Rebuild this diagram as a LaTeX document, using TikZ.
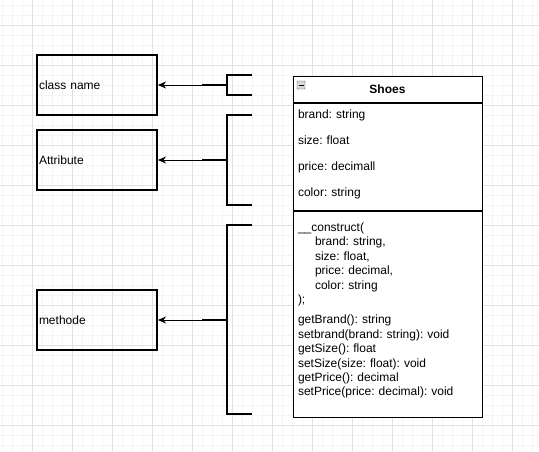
\documentclass[tikz,border=0pt]{standalone}
\usepackage{fontspec}
\setmainfont{Liberation Sans}
\usetikzlibrary{arrows.meta}
\definecolor{gridminor}{HTML}{F4F4F4}
\definecolor{gridmajor}{HTML}{E1E1E1}
\frenchspacing
\begin{document}
\begin{tikzpicture}[x=1pt,y=-1pt,
    every node/.style={font=\fontsize{12}{14.4}\selectfont},
    label box/.style={draw,line width=2pt,minimum width=120pt,minimum height=60pt,
      text width=116pt,inner xsep=2pt,align=left},
    bracket/.style={line width=2pt},
    pointer/.style={line width=1pt,-{Stealth[length=8pt,width=7pt,inset=2.5pt]}},
    compartment/.style={draw,fill=white,line width=1pt,minimum width=189pt,anchor=north},
    members/.style={text width=179pt,inner sep=0pt,align=left}]
  \useasboundingbox (0,0) rectangle (539,451);
  \fill[white] (0,0) rectangle (539,451);
  \foreach \gx in {2,12,...,532} \draw[gridminor] (\gx,0) -- (\gx,451);
  \foreach \gy in {5,15,...,445} \draw[gridminor] (0,\gy) -- (539,\gy);
  \foreach \gx in {32,72,...,512} \draw[gridmajor] (\gx,0) -- (\gx,451);
  \foreach \gy in {25,65,...,425} \draw[gridmajor] (0,\gy) -- (539,\gy);
  \node[label box] (classname) at (97,85) {class name};
  \node[label box] (attribute) at (97,160) {Attribute};
  \node[label box] (methode) at (97,320) {methode};
  \node[draw,fill=white,line width=1pt,minimum width=189pt,minimum height=26pt,
    font=\fontsize{12}{14.4}\selectfont\bfseries] (shoes) at (387.5,89) {Shoes};
  \node[compartment,minimum height=107pt] (attrs) at (shoes.south) {};
  \node[compartment,minimum height=206pt] (methods) at (attrs.south) {};
  \node[members,font=\fontsize{12}{26}\selectfont] (attrtext) at ([yshift=2pt]attrs.center)
    {brand: string\\size: float\\price: decimall\\color: string};
  \node[members] (methodtext) at ([yshift=3.5pt]methods.center)
    {\_\_construct(\\\hspace*{17pt}brand: string,\\\hspace*{17pt}size: float,\\
     \hspace*{17pt}price: decimal,\\\hspace*{17pt}color: string\\);\\[6pt]
     getBrand(): string\\setbrand(brand: string): void\\getSize(): float\\
     setSize(size: float): void\\getPrice(): decimal\\setPrice(price: decimal): void};
  \node[draw=gray!70!black,fill=gray!30,minimum size=8pt,inner sep=0pt,
    rounded corners=0.5pt] (toggle) at (301,85) {};
  \draw[line width=1pt] ([xshift=-2.5pt]toggle.center) -- ([xshift=2.5pt]toggle.center);
  % brackets
  \coordinate (cnb) at (227,85); \coordinate (cn) at (202,85);
  \coordinate (atb) at (227,160); \coordinate (at) at (202,160);
  \coordinate (meb) at (227,320); \coordinate (me) at (202,320);
  \draw[bracket] (252,75) -- (227,75) -- (227,95) -- (252,95);
  \draw[bracket] (252,115) -- (227,115) -- (227,205) -- (252,205);
  \draw[bracket] (252,225) -- (227,225) -- (227,414) -- (252,414);
  \draw[bracket] (cnb) -- (cn); \draw[bracket] (atb) -- (at); \draw[bracket] (meb) -- (me);
  \draw[pointer] (cn) -- (classname.east);
  \draw[pointer] (at) -- (attribute.east);
  \draw[pointer] (me) -- (methode.east);
\end{tikzpicture}
\end{document}
